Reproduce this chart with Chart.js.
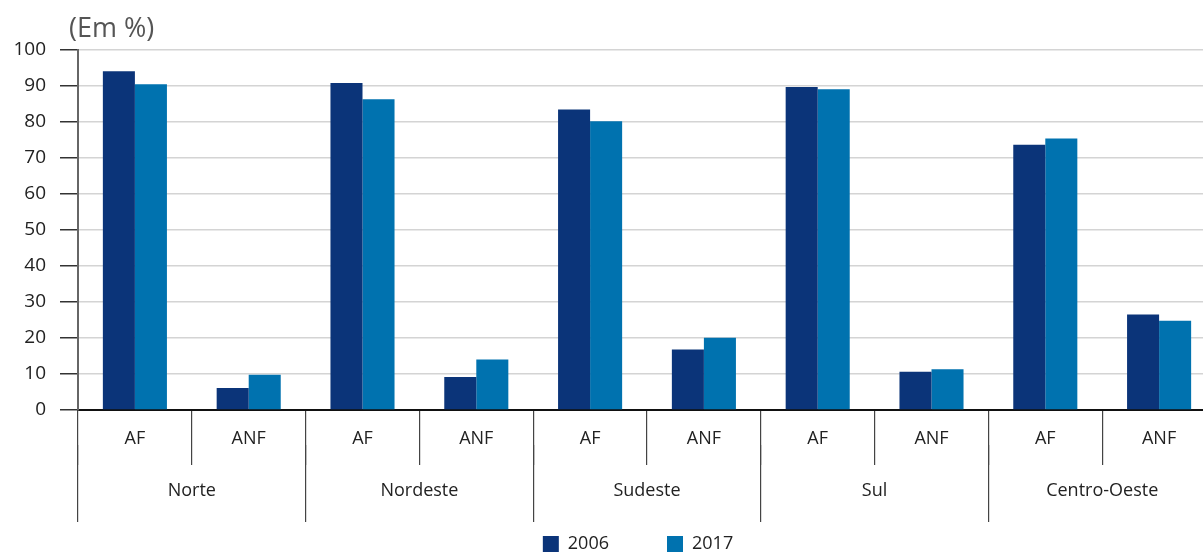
<!DOCTYPE html>
<html>
<head>
<meta charset="utf-8">
<script src="https://cdn.jsdelivr.net/npm/chart.js@4"></script>
<style>
  html, body { margin: 0; padding: 0; background: #fff; overflow: hidden; }
  #chartBox { width: 1216px; height: 552px; }
</style>
</head>
<body>
<div id="chartBox"><canvas id="regionChart"></canvas></div>
<script>
const regions = ["Norte", "Nordeste", "Sudeste", "Sul", "Centro-Oeste"];
const subLabels = ["AF", "ANF", "AF", "ANF", "AF", "ANF", "AF", "ANF", "AF", "ANF"];
const yTicks = [0, 10, 20, 30, 40, 50, 60, 70, 80, 90, 100];
const values2006 = [94.1, 6.1, 90.8, 9.2, 83.5, 16.8, 89.7, 10.6, 73.7, 26.5];
const values2017 = [90.5, 9.8, 86.3, 14.0, 80.2, 20.1, 89.1, 11.3, 75.4, 24.8];

const fontFamily = "'Open Sans', 'Noto Sans', sans-serif";

// "(Em %)" unit label above the y axis
const unitLabel = {
    id: 'unitLabel',
    afterDraw(chart) {
        const ctx = chart.ctx;
        ctx.save();
        ctx.font = "27px " + fontFamily;
        ctx.fillStyle = "#555";
        ctx.textBaseline = "alphabetic";
        ctx.fillText("(Em %)", 69, 37);
        ctx.restore();
    }
};

const regionChart = new Chart("regionChart", {
    type: 'bar',
    data: {
        labels: subLabels,
        datasets: [
            { label: '2006', data: values2006, backgroundColor: '#0b3479', borderWidth: 0 },
            { label: '2017', data: values2017, backgroundColor: '#0072af', borderWidth: 0 }
        ]
    },
    options: {
        responsive: true,
        maintainAspectRatio: false,
        animation: false,
        datasets: { bar: { categoryPercentage: 0.563, barPercentage: 1 } },
        layout: { padding: { top: 50, left: 0, right: 0, bottom: -11 } },
        scales: {
            x: {
                grid: { offset: true, drawOnChartArea: false, tickLength: 55, color: '#444', lineWidth: 1.2 },
                border: { color: '#111', width: 2 },
                ticks: { padding: -37, color: '#222', font: { family: fontFamily, size: 18 }, maxRotation: 0, autoSkip: false },
                afterFit: s => { s.height = 35; }
            },
            x2: {
                type: 'category',
                labels: regions,
                position: 'bottom',
                offset: true,
                grid: { offset: true, drawOnChartArea: false, tickLength: 77, color: '#444', lineWidth: 1.2 },
                border: { display: false },
                ticks: { padding: -42, color: '#222', font: { family: fontFamily, size: 18 }, maxRotation: 0, autoSkip: false },
                afterFit: s => { s.height = 86; }
            },
            y: {
                min: 0,
                max: 100,
                afterBuildTicks: s => { s.ticks = yTicks.map(v => ({ value: v })); },
                grid: { color: '#d4d4d4', lineWidth: 1.5, tickLength: 18, tickColor: '#333' },
                border: { color: '#666', width: 2 },
                ticks: { padding: 14, color: '#222', font: { family: fontFamily, size: 19 } },
                afterFit: s => { s.width = 78; }
            }
        },
        plugins: {
            tooltip: { enabled: false },
            legend: {
                position: 'bottom',
                fullSize: false,
                labels: {
                    boxWidth: 16,
                    boxHeight: 16,
                    padding: 4,
                    color: '#222',
                    font: { family: fontFamily, size: 18 },
                    generateLabels: chart => chart.data.datasets.map((ds, i) => ({
                        text: ds.label + (i === 0 ? '\u2003\u2003\u2003' : '\u2003'),
                        fillStyle: ds.backgroundColor,
                        strokeStyle: ds.backgroundColor,
                        lineWidth: 0,
                        datasetIndex: i,
                        fontColor: '#222'
                    }))
                }
            }
        }
    },
    plugins: [unitLabel]
});
</script>
</body>
</html>
